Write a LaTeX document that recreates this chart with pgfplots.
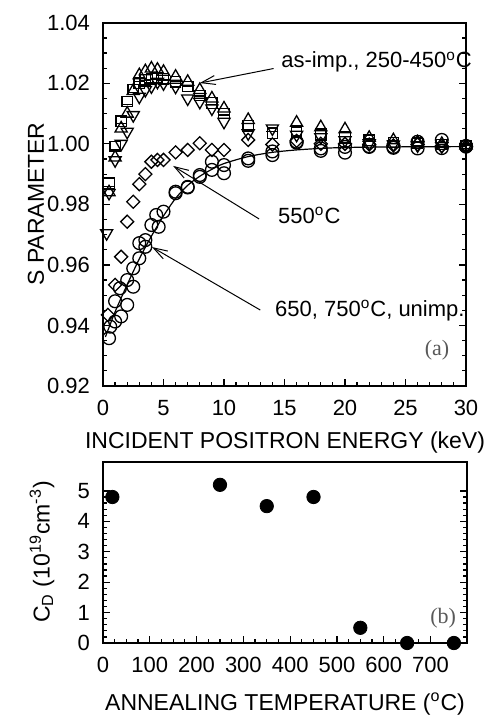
\documentclass[border=0pt]{standalone}
\usepackage{fontspec}
\setmainfont{Liberation Sans}
\newfontfamily\seriffont{Liberation Serif}
\usepackage{pgfplots}
\pgfplotsset{compat=1.18}
\usetikzlibrary{arrows.meta}

\pgfplotsset{
  panel/.style={
    scale only axis, clip=false, anchor=south west,
    axis line style={line width=0.8pt},
    tick style={black, line width=0.6pt},
    major tick length=3.4pt, minor tick length=1.8pt,
    tick align=inside,
    xtick pos=bottom, ytick pos=both, yticklabel pos=left,
    tick label style={font=\fontsize{11}{13}\selectfont},
    /pgf/number format/assume math mode=true,
    xticklabel style={yshift=-3.4pt},
    yticklabel style={xshift=-3pt},
  },
  pts/.style={only marks, black, line width=0.65pt},
}

\begin{document}
\begin{tikzpicture}
\useasboundingbox (0pt,0pt) rectangle (243pt,-359.5pt);

% (a) S parameter vs energy
\begin{axis}[panel, at={(51.5pt,-193pt)}, width=181.5pt, height=181.6pt,
  xmin=0, xmax=30, ymin=0.92, ymax=1.04,
  xtick={0,5,10,15,20,25,30}, minor x tick num=4,
  ytick={0.92,0.94,0.96,0.98,1.00,1.02,1.04}, minor y tick num=3,
  yticklabel style={/pgf/number format/.cd, fixed, fixed zerofill, precision=2}]

% fit line through 650, 750C, unimp.
\addplot[no marks, black, line width=0.6pt, smooth] coordinates {
(0.2,0.9362) (1,0.9445) (2,0.9535) (3,0.9620) (4,0.9695) (5,0.9762)
(6,0.9820) (7,0.9863) (8,0.9893) (9,0.9916) (10,0.9935) (12,0.9958)
(14,0.9972) (16,0.9980) (18,0.9985) (20,0.9988) (24,0.9990) (30,0.9991)};

% 650C
\addplot[pts, mark=o, mark size=3.2pt] coordinates {
(0.5,0.9358) (1.0,0.9413) (1.5,0.9430) (2.0,0.9468) (2.5,0.9528) (3.0,0.9622)
(3.5,0.9660) (4.0,0.9732) (5.0,0.9776) (6.0,0.9842) (7.0,0.9858) (8.0,0.9897)
(9.0,0.9914) (10,0.9903) (12,0.9944) (14,0.9963) (16,1.0004) (18,0.9977)
(20,0.9971) (22,0.9990) (24,0.9987) (26,0.9985) (28,0.9986) (30,0.9991)};
% 750C
\addplot[pts, mark=o, mark size=3.2pt] coordinates {
(0.6,0.9396) (1.0,0.9480) (1.4,0.9523) (2.0,0.9550) (2.5,0.9589) (3.0,0.9672)
(3.5,0.9682) (4.4,0.9765) (4.6,0.9726) (6.0,0.9837) (7.0,0.9856) (8.0,0.9891)
(9.0,0.9941) (10,0.9930) (12,0.9952) (14,0.9975) (16,1.0007) (18,0.9985)
(20,0.9990) (22,0.9992) (24,0.9990) (26,1.0007) (28,1.0013) (30,0.9993)};

% 550C
\addplot[pts, mark=square, mark size=2.3pt, mark options={rotate=45}] coordinates {
(0.4,0.9435) (1.0,0.9534) (1.5,0.9627) (2.0,0.9743) (2.5,0.9809) (3.0,0.9867)
(3.5,0.9900) (4.0,0.9941) (4.5,0.9947) (5.0,0.9947) (6.0,0.9972) (7.0,0.9980)
(8.0,1.0002) (9.0,0.9980) (10,0.9980) (12,1.0013) (14,0.9998) (16,1.0010)
(18,1.0000) (20,1.0000) (22,0.9998) (24,0.9995) (26,0.9998) (28,0.9993) (30,0.9990)};

% as-imp.
\addplot[pts, mark=square, mark size=2.6pt] coordinates {
(0.5,0.9870) (1.0,0.9991) (1.5,1.0075) (2.0,1.0140) (2.5,1.0180) (3.0,1.0200)
(3.5,1.0212) (4.0,1.0215) (4.5,1.0218) (5.0,1.0215) (6.0,1.0205) (7.0,1.0190)
(8.0,1.0160) (9.0,1.0135) (10,1.0100) (12,1.0060) (14,1.0035) (16,1.0038)
(18,1.0030) (20,1.0020) (22,1.0012) (24,1.0005) (26,1.0002) (28,0.9998) (30,0.9995)};
% 250C
\addplot[pts, mark=triangle, mark size=3.5pt] coordinates {
(0.5,0.9840) (1.0,0.9955) (1.5,1.0051) (2.0,1.0100) (2.5,1.0175) (3.0,1.0227)
(3.5,1.0240) (4.0,1.0249) (4.5,1.0245) (5.0,1.0238) (6.0,1.0222) (7.0,1.0205)
(8.0,1.0178) (9.0,1.0150) (10,1.0117) (12,1.0079) (16,1.0070) (18,1.0055)
(20,1.0048) (22,1.0020) (24,1.0012) (26,1.0005) (28,1.0000) (30,0.9995)};
% 350C
\addplot[pts, mark=triangle, mark size=3.5pt, mark options={rotate=180}] coordinates {
(0.3,0.9705) (0.5,0.9838) (1.0,0.9946) (1.5,1.0000) (2.0,1.0040) (2.5,1.0095)
(3.0,1.0156) (3.5,1.0178) (4.0,1.0190) (4.5,1.0205) (5.0,1.0200) (6.0,1.0189)
(7.0,1.0150) (8.0,1.0139) (9.0,1.0117) (10,1.0073) (12,1.0035) (14,1.0051)
(16,1.0030) (18,1.0022) (20,1.0012) (22,1.0002) (24,0.9998) (26,0.9995) (28,0.9992) (30,0.9990)};
% 450C
\addplot[pts, mark=-, mark size=3pt] coordinates {
(0.5,0.9860) (1.0,0.9980) (1.5,1.0068) (2.0,1.0130) (2.5,1.0170) (3.0,1.0205)
(3.5,1.0210) (4.0,1.0212) (4.5,1.0215) (5.0,1.0210) (6.0,1.0205) (7.0,1.0189)
(8.0,1.0158) (9.0,1.0130) (10,1.0095) (12,1.0068) (14,1.0040) (16,1.0060)
(18,1.0050) (20,1.0040) (22,1.0018) (24,1.0010) (26,1.0005) (28,0.9998) (30,0.9996)};

% annotations
\draw[line width=0.5pt, -{Straight Barb[length=7pt,width=4.5pt]}] (axis cs:14.1,1.0249) -- (axis cs:8.0,1.0201);
\draw[line width=0.5pt, -{Straight Barb[length=7pt,width=4.5pt]}] (axis cs:12.9,0.9752) -- (axis cs:5.8,0.9927);
\draw[line width=0.5pt, -{Straight Barb[length=7pt,width=4.5pt]}] (axis cs:13.0,0.9451) -- (axis cs:4.05,0.9659);
\node[anchor=west, inner sep=0pt, font=\fontsize{11}{13}\selectfont] at (axis cs:14.7,1.0270) {as-imp., 250-450\textsuperscript{o}C};
\node[anchor=west, inner sep=0pt, font=\fontsize{11}{13}\selectfont] at (axis cs:14.45,0.9765) {550\textsuperscript{o}C};
\node[anchor=west, inner sep=0pt, font=\fontsize{11}{13}\selectfont] at (axis cs:14.2,0.9448) {650, 750\textsuperscript{o}C, unimp.};
\node[text=black!65, font=\seriffont\fontsize{11}{13}\selectfont] at (axis cs:27.6,0.9319) {(a)};
\end{axis}

% (b) C_D vs annealing temperature
\begin{axis}[panel, at={(51.5pt,-321.5pt)}, width=182pt, height=90.5pt,
  xmin=0, xmax=778, ymin=0, ymax=5.95,
  xtick={0,100,200,300,400,500,600,700}, minor x tick num=3,
  ytick={0,1,2,3,4,5}, minor y tick num=4]
\addplot[only marks, black, mark=*, mark size=3.35pt] coordinates {
(20,4.8) (250,5.2) (350,4.5) (450,4.8) (550,0.5) (650,0) (750,0)};
\node[text=black!65, font=\seriffont\fontsize{11}{13}\selectfont] at (axis cs:727,0.83) {(b)};
\end{axis}

% axis titles
\node[rotate=90, font=\fontsize{11.5}{14}\selectfont] at (18pt,-102pt) {S PARAMETER};
\node[font=\fontsize{11.5}{14}\selectfont] at (142.5pt,-221.5pt) {INCIDENT POSITRON ENERGY (keV)};
\node[rotate=90, font=\fontsize{11.5}{14}\selectfont] at (21pt,-276pt) {C\textsubscript{D} (10\textsuperscript{19}cm\textsuperscript{-3})};
\node[font=\fontsize{11.5}{14}\selectfont] at (142.5pt,-352pt) {ANNEALING TEMPERATURE (\textsuperscript{o}C)};
\end{tikzpicture}
\end{document}
